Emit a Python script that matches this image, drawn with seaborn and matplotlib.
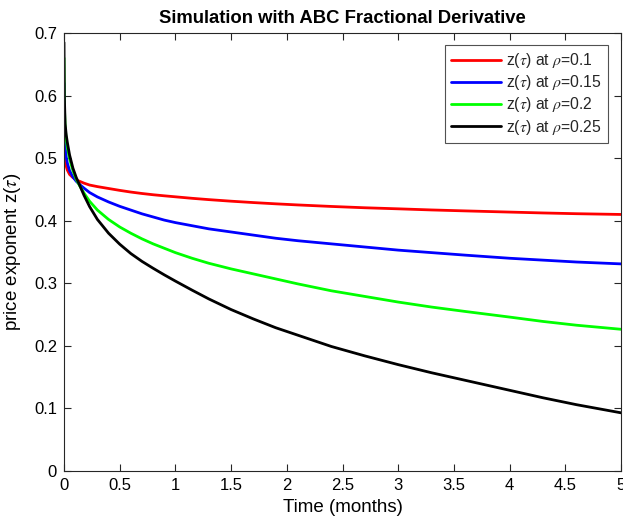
import numpy as np
import pandas as pd
import matplotlib
matplotlib.use("Agg")
import matplotlib.pyplot as plt
from matplotlib.ticker import FuncFormatter
import seaborn as sns

t = [0, 0.003, 0.01, 0.02, 0.03, 0.05, 0.08, 0.11, 0.14, 0.18,
     0.23, 0.3, 0.4, 0.5, 0.6, 0.7, 0.8, 0.9, 1.0, 1.15,
     1.3, 1.5, 1.7, 1.9, 2.1, 2.4, 2.7, 3.0, 3.3, 3.6,
     4.0, 4.3, 4.6, 5.0]
z_rho_010 = [0.58, 0.52, 0.497, 0.487, 0.481, 0.474, 0.469, 0.465, 0.463, 0.460,
             0.457, 0.4545, 0.4515, 0.4485, 0.4458, 0.4435, 0.4415, 0.4398, 0.4382, 0.4358,
             0.4337, 0.4312, 0.429, 0.427, 0.4252, 0.4228, 0.4207, 0.419, 0.4172, 0.4157,
             0.4138, 0.4124, 0.4112, 0.410]
z_rho_015 = [0.62, 0.55, 0.52, 0.502, 0.492, 0.480, 0.470, 0.463, 0.458, 0.452,
             0.445, 0.438, 0.430, 0.423, 0.417, 0.411, 0.406, 0.401, 0.397, 0.392,
             0.387, 0.382, 0.377, 0.372, 0.368, 0.363, 0.358, 0.353, 0.349, 0.345,
             0.340, 0.337, 0.334, 0.331]
z_rho_020 = [0.66, 0.585, 0.55, 0.53, 0.517, 0.499, 0.480, 0.466, 0.456, 0.444,
             0.431, 0.417, 0.402, 0.390, 0.380, 0.371, 0.363, 0.356, 0.349, 0.340,
             0.332, 0.323, 0.315, 0.307, 0.299, 0.288, 0.279, 0.270, 0.262, 0.255,
             0.246, 0.239, 0.233, 0.2265]
z_rho_025 = [0.685, 0.60, 0.555, 0.537, 0.525, 0.505, 0.484, 0.469, 0.457, 0.4405,
             0.4225, 0.402, 0.380, 0.3625, 0.3475, 0.335, 0.324, 0.3135, 0.3035, 0.289,
             0.275, 0.258, 0.243, 0.229, 0.217, 0.199, 0.184, 0.170, 0.157, 0.145,
             0.129, 0.117, 0.106, 0.093]

labels = [r"z($\tau$) at $\rho$=0.1", r"z($\tau$) at $\rho$=0.15",
          r"z($\tau$) at $\rho$=0.2", r"z($\tau$) at $\rho$=0.25"]
colors = ["#ff0000", "#0000ff", "#00ff00", "#000000"]
series = [z_rho_010, z_rho_015, z_rho_020, z_rho_025]

xticks = [0, 0.5, 1, 1.5, 2, 2.5, 3, 3.5, 4, 4.5, 5]
yticks = [0, 0.1, 0.2, 0.3, 0.4, 0.5, 0.6, 0.7]

df = pd.concat([pd.DataFrame({"t": t, "z": s, "series": lab})
                for s, lab in zip(series, labels)], ignore_index=True)

sns.set_theme(style="white")
plt.rcParams["font.family"] = ["Liberation Sans", "DejaVu Sans"]
plt.rcParams["mathtext.fontset"] = "stix"

fig = plt.figure(figsize=(6.23, 5.28), dpi=100)
ax = fig.add_axes([64/623, 1 - 471/528, (621 - 64)/623, (471 - 33)/528])

sns.lineplot(data=df, x="t", y="z", hue="series", palette=dict(zip(labels, colors)),
             hue_order=labels, linewidth=2, ax=ax, estimator=None, sort=False)

ax.set_xlim(0, 5)
ax.set_ylim(0, 0.7)
ax.set_xticks(xticks)
ax.set_yticks(yticks)
fmt = FuncFormatter(lambda v, p: "%g" % v)
ax.xaxis.set_major_formatter(fmt)
ax.yaxis.set_major_formatter(fmt)
ax.tick_params(direction="in", length=5, width=0.8, color="#262626",
               labelsize=12, top=True, right=True, bottom=True, left=True,
               labelcolor="#000000", pad=5)
for sp in ax.spines.values():
    sp.set_visible(True)
    sp.set_color("#262626")
    sp.set_linewidth(0.8)

ax.set_xlabel("Time (months)", fontsize=13.5, labelpad=4, color="black")
ax.set_ylabel(r"price exponent z($\tau$)", fontsize=13.5, labelpad=8, color="black")
ax.set_title("Simulation with ABC Fractional Derivative", fontsize=13.3,
             fontweight="bold", pad=7, color="black")

leg = ax.legend(loc="upper right", bbox_to_anchor=(0.977, 0.973), fontsize=11.3,
                frameon=True, fancybox=False, edgecolor="#262626",
                handlelength=3.2, handletextpad=0.3, labelspacing=0.2,
                borderpad=0.4, borderaxespad=0)
leg.get_frame().set_linewidth(0.8)
for line in leg.get_lines():
    line.set_linewidth(2)

fig.savefig("out.png", dpi=100)
